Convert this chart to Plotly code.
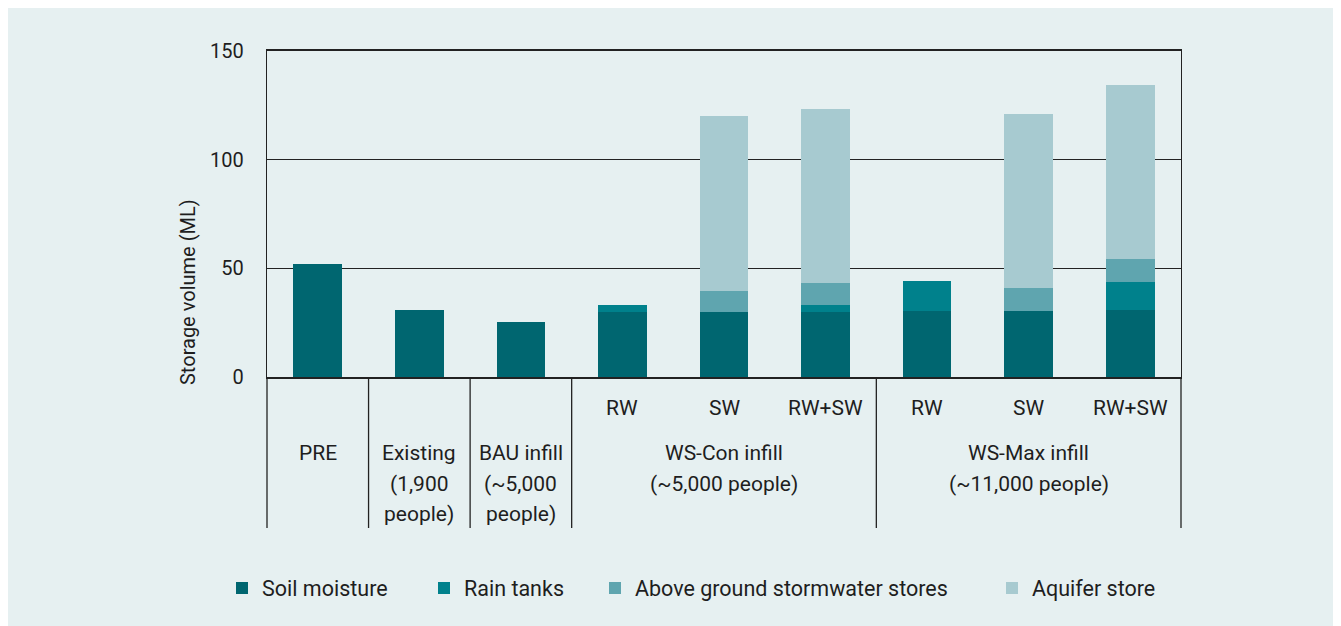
import plotly.graph_objects as go

categories = ["PRE", "Existing", "BAU infill", "WS-Con RW", "WS-Con SW", "WS-Con RW+SW",
              "WS-Max RW", "WS-Max SW", "WS-Max RW+SW"]
soil_moisture = [52.0, 30.8, 25.3, 30.0, 30.0, 30.0, 30.4, 30.4, 30.8]
rain_tanks = [0, 0, 0, 3.2, 0, 3.2, 13.8, 0, 12.9]
above_ground = [0, 0, 0, 0, 9.6, 10.2, 0, 10.6, 10.6]
aquifer_store = [0, 0, 0, 0, 80.5, 80.0, 0, 80.0, 80.1]

series_names = ["Soil moisture", "Rain tanks", "Above ground stormwater stores", "Aquifer store"]
series_values = [soil_moisture, rain_tanks, above_ground, aquifer_store]
series_colors = ["#006670", "#00818C", "#5FA5AF", "#A7CAD0"]

sub_labels = {"WS-Con RW": "RW", "WS-Con SW": "SW", "WS-Con RW+SW": "RW+SW",
              "WS-Max RW": "RW", "WS-Max SW": "SW", "WS-Max RW+SW": "RW+SW"}
main_labels = [("PRE", ["PRE"]),
               ("Existing", ["Existing", "(1,900", "people)"]),
               ("BAU infill", ["BAU infill", "(~5,000", "people)"]),
               ("WS-Con SW", ["WS-Con infill", "(~5,000 people)"]),
               ("WS-Max SW", ["WS-Max infill", "(~11,000 people)"])]
divider_after = [0, 1, 2, 5]
y_title = "Storage volume (ML)"

FONT = "Roboto"
TXT = "#1e1e1e"
BG = "#E6F0F1"
LINE = "#222222"

# Screen pixel geometry of the plot area (page has an 8px body margin)
OFF = 8
W, H = 1341, 626
L, R, T, B = 267, 1181, 51, 377
def px_x(p):
    return (p - L) / (R - L)
def px_y(p):
    return (B - p) / (B - T)

fig = go.Figure()
legend_ids = ["legend", "legend2", "legend3", "legend4"]
for name, vals, col, lg in zip(series_names, series_values, series_colors, legend_ids):
    fig.add_trace(go.Bar(x=categories, y=vals, name=name, marker_color=col,
                         marker_line_width=0, legend=lg))

n = len(categories)
shapes = []
for xb in [0.0, 1.0] + [(i + 1) / n for i in divider_after]:
    shapes.append(dict(type="line", xref="paper", yref="paper", x0=xb, x1=xb,
                       y0=0, y1=px_y(528), line=dict(color=LINE, width=1.3)))

txt_font = dict(family=FONT, size=21, color=TXT)
annotations = []
for cat, lab in sub_labels.items():
    annotations.append(dict(x=cat, xref="x", y=px_y(408), yref="paper", text=lab,
                            xanchor="center", yanchor="middle", showarrow=False, font=txt_font))
for cat, lines in main_labels:
    for k, line in enumerate(lines):
        annotations.append(dict(x=cat, xref="x", y=px_y(453 + 30.5 * k), yref="paper", text=line,
                                xanchor="center", yanchor="middle", showarrow=False, font=txt_font))
annotations.append(dict(x=px_x(188), xref="paper", y=px_y(292), yref="paper", text=y_title,
                        textangle=-90, xanchor="center", yanchor="middle", showarrow=False,
                        font=dict(family=FONT, size=20, color=TXT)))

leg_pos = [236, 438, 609, 1006]
layout_legends = {}
for lg, p in zip(legend_ids, leg_pos):
    layout_legends[lg] = dict(x=px_x(p - 14), xref="paper", xanchor="left", y=px_y(588), yanchor="middle",
                              bgcolor="rgba(0,0,0,0)", font=dict(family=FONT, size=21.5, color=TXT),
                              itemwidth=30, orientation="h")

fig.update_layout(
    width=W, height=H,
    margin=dict(l=L - OFF, r=W + OFF - R, t=T - OFF, b=H + OFF - B, pad=0),
    paper_bgcolor=BG, plot_bgcolor=BG,
    barmode="stack", bargap=0.52,
    font=dict(family=FONT, color=TXT, size=20),
    shapes=shapes, annotations=annotations,
    showlegend=True,
    **layout_legends,
)
fig.update_xaxes(type="category", showticklabels=False, ticks="", showgrid=False,
                 showline=True, linecolor=LINE, linewidth=1.5, mirror=True, zeroline=False)
fig.update_yaxes(range=[0, 150], tickvals=[0, 50, 100, 150], showgrid=True, gridcolor=LINE,
                 gridwidth=1.2, zeroline=False, showline=True, linecolor=LINE, linewidth=1.3,
                 mirror=True, ticks="", ticklabelstandoff=18,
                 tickfont=dict(family=FONT, size=20, color=TXT))

fig.write_html("out.html")
